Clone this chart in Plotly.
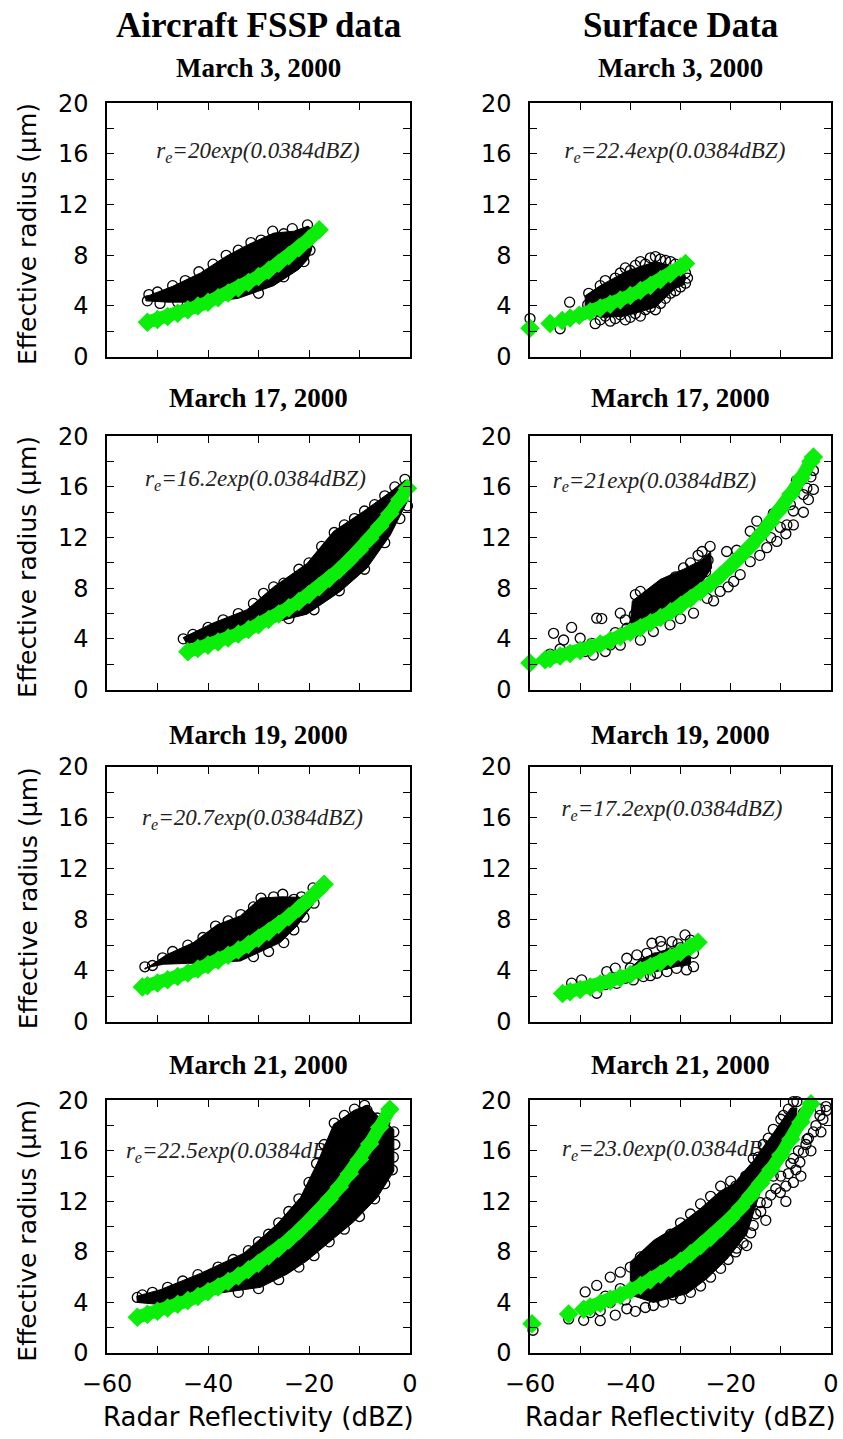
import plotly.graph_objects as go

W, H = 843, 1439
GREEN = '#0AEE0A'

# ---------------- text ----------------
column_titles = ["Aircraft FSSP data", "Surface Data"]
panel_titles = ["March 3, 2000", "March 3, 2000",
                "March 17, 2000", "March 17, 2000",
                "March 19, 2000", "March 19, 2000",
                "March 21, 2000", "March 21, 2000"]
fit_labels = ["r<sub>e</sub>=20exp(0.0384dBZ)", "r<sub>e</sub>=22.4exp(0.0384dBZ)",
              "r<sub>e</sub>=16.2exp(0.0384dBZ)", "r<sub>e</sub>=21exp(0.0384dBZ)",
              "r<sub>e</sub>=20.7exp(0.0384dBZ)", "r<sub>e</sub>=17.2exp(0.0384dBZ)",
              "r<sub>e</sub>=22.5exp(0.0384dBZ)", "r<sub>e</sub>=23.0exp(0.0384dBZ)"]
x_title = "Radar Reflectivity (dBZ)"
y_title = "Effective radius (µm)"
x_tick_vals = [-60, -40, -20, 0]
x_tick_text = ["\u221260", "\u221240", "\u221220", "0"]
y_tick_vals = [0, 4, 8, 12, 16, 20]
y_tick_text = ["0", "4", "8", "12", "16", "20"]

# ---------------- Aircraft FSSP data ----------------
# dense clouds: outline of the solid black region (dBZ, um)
a1_cloud = [(-52.3, 4.75), (-51.5, 4.85), (-47, 5.55), (-41.5, 6.6), (-36.5, 7.9), (-32, 8.85), (-27, 9.75),
            (-23, 9.9), (-20.2, 10.3), (-18.8, 9.9), (-19.6, 8.3), (-20.2, 7.7), (-22, 6.9), (-27, 5.6),
            (-34, 4.6), (-40, 4.3), (-48, 4.3), (-52.3, 4.4)]
a1_points = [(-51.7, 4.9), (-50, 5.1), (-47, 5.6), (-44.5, 6.0), (-41.8, 6.7), (-39, 7.3), (-36.4, 8.0),
             (-34, 8.4), (-31.5, 9.0), (-29.5, 9.2), (-27.2, 9.9), (-25, 9.7), (-23.3, 10.1), (-20.3, 10.4),
             (-52, 4.4), (-49.5, 4.2), (-46, 4.3), (-42, 4.35), (-30, 5.0), (-25, 6.3), (-21, 7.5), (-19.8, 8.4)]
a1_fit_x = [-52, -50, -48, -46, -44, -42, -40, -38, -36, -34, -32, -30, -28, -26, -24, -22, -20, -18]
a1_fit_y = [2.72, 2.93, 3.17, 3.42, 3.69, 3.99, 4.30, 4.65, 5.02, 5.42, 5.85, 6.32, 6.82, 7.37, 7.96, 8.59,
            9.28, 10.02]

a2_cloud = [(-44.9, 4.1), (-39, 5.25), (-32.3, 6.3), (-27, 8.1), (-20.4, 9.95), (-15.1, 12.5), (-9.1, 14.1),
            (-3.9, 15.6), (-0.9, 16.55), (-0.4, 16.0), (-0.6, 14.8), (-3.9, 12.2), (-8.5, 9.6), (-13.8, 7.75),
            (-20.4, 5.95), (-27, 5.3), (-36.5, 4.4), (-44.2, 3.6)]
a2_points = [(-44.9, 4.0), (-43, 4.35), (-40, 4.9), (-37, 5.5), (-34, 6.0), (-31, 6.8), (-29, 7.6), (-27, 8.1),
             (-25, 8.4), (-22, 9.5), (-20, 10.0), (-17.5, 11.3), (-15, 12.4), (-13, 13.0), (-11, 13.5),
             (-9, 14.1), (-7, 14.6), (-5, 15.3), (-3, 16.0), (-1, 16.6), (-0.5, 14.5), (-2, 13.5), (-5, 11.6),
             (-9, 9.5), (-14, 7.8), (-19, 6.3), (-24, 5.6), (-30, 5.0)]
a2_fit_x = [-44, -42, -40, -38, -36, -34, -32, -30, -28, -26, -24, -22, -20, -18, -16, -14, -12, -10, -8,
            -6, -4, -2, -0.5]
a2_fit_y = [2.99, 3.23, 3.49, 3.76, 4.07, 4.39, 4.74, 5.12, 5.53, 5.97, 6.45, 6.96, 7.51, 8.12, 8.76, 9.46,
            10.22, 11.03, 11.92, 12.87, 13.89, 15.0, 15.9]

a3_cloud = [(-52.5, 4.1), (-48.2, 5.25), (-42.9, 6.2), (-38.2, 7.6), (-33.6, 8.3), (-29.6, 9.7), (-25.3, 9.8),
            (-21.7, 9.75), (-19.1, 10.4), (-18.9, 9.6), (-19.2, 9.2), (-22.4, 7.5), (-25.7, 6.2),
            (-33.6, 4.75), (-41.5, 4.6), (-48.8, 4.5), (-52.5, 4.2)]
a3_points = [(-52.5, 4.3), (-51, 4.4), (-49, 5.0), (-47, 5.5), (-44, 6.0), (-41, 6.6), (-38.5, 7.5), (-36, 7.9),
             (-33.5, 8.4), (-31, 9.0), (-29.5, 9.7), (-27, 9.8), (-25.2, 10.0), (-23, 9.6), (-21.5, 9.8),
             (-19.2, 10.5), (-19, 9.3), (-21, 8.2), (-23, 7.2), (-25, 6.2), (-28, 5.5), (-31, 5.1)]
a3_fit_x = [-53, -52, -50, -48, -46, -44, -42, -40, -38, -36, -34, -32, -30, -28, -26, -24, -22, -20, -18, -17]
a3_fit_y = [2.71, 2.81, 3.03, 3.28, 3.54, 3.82, 4.13, 4.45, 4.81, 5.20, 5.61, 6.06, 6.54, 7.06, 7.63, 8.24,
            8.89, 9.60, 10.37, 10.78]

a4_cloud = [(-54.1, 4.5), (-49.5, 5.0), (-41.5, 6.3), (-32.9, 7.9), (-26.3, 10.2), (-21.7, 12.3), (-18.4, 15.0),
            (-15.1, 18.1), (-11.1, 19.2), (-8.5, 19.6), (-6.5, 18.8), (-3.2, 17.7), (-3.2, 14.4), (-6.5, 12.3),
            (-11.1, 10.4), (-15.7, 8.9), (-20.4, 7.3), (-24.3, 6.25), (-29.6, 5.2), (-37.6, 4.75),
            (-48.5, 3.8), (-54, 4.0)]
a4_points = [(-54, 4.4), (-53, 4.6), (-51, 4.8), (-48, 5.2), (-45, 5.7), (-42, 6.2), (-38, 6.8), (-35, 7.4),
             (-32, 8.1), (-30, 8.8), (-28, 9.4), (-26, 10.3), (-24, 11.2), (-22, 12.2), (-20, 13.5),
             (-18.5, 15.0), (-17, 16.5), (-15, 18.2), (-13, 18.8), (-11, 19.3), (-9, 19.6), (-8.5, 19.2),
             (-6.5, 18.6), (-5, 18.2), (-3.2, 17.5), (-3, 16.5), (-3.3, 15.5), (-3.5, 14.5), (-5, 13.4),
             (-7, 12.2), (-10, 10.8), (-13, 9.8), (-16, 8.8), (-19, 7.7), (-22, 6.8), (-26, 5.8), (-30, 5.1),
             (-34, 4.8)]
a4_fit_x = [-54, -52, -50, -48, -46, -44, -42, -40, -38, -36, -34, -32, -30, -28, -26, -24, -22, -20, -18,
            -16, -14, -12, -10, -8, -6, -4]
a4_fit_y = [2.83, 3.06, 3.30, 3.56, 3.85, 4.15, 4.48, 4.84, 5.23, 5.65, 6.10, 6.58, 7.11, 7.68, 8.29, 8.95,
            9.67, 10.44, 11.27, 12.17, 13.14, 14.19, 15.32, 16.55, 17.87, 19.30]

# ---------------- Surface data ----------------
s1_cloud = [(-49, 3.5), (-49, 4.8), (-46, 5.6), (-41, 6.7), (-35, 7.5), (-31, 7.1), (-29.2, 6.4), (-29.2, 5.7),
            (-31, 5.4), (-35, 3.9), (-41, 3.2), (-46, 3.1)]
s1_points = [(-60, 3.0), (-54, 2.2), (-52.1, 4.3), (-48.3, 5.0), (-47, 2.6), (-49.5, 3.3), (-48.5, 4.1),
             (-47, 4.6), (-46, 5.6), (-45, 6.0), (-44, 5.3), (-43, 6.2), (-42, 6.6), (-41, 7.0), (-40, 6.8),
             (-39, 7.2), (-38, 7.5), (-37, 7.3), (-36, 7.8), (-35, 7.9), (-34, 7.7), (-33, 7.6), (-32, 7.5),
             (-31, 7.3), (-30, 7.0), (-29, 6.6),
             (-46, 2.9), (-45, 3.2), (-44, 2.8), (-43, 3.0), (-42, 3.3), (-41, 2.9), (-40, 3.1), (-39, 3.4),
             (-38, 3.2), (-37, 3.7), (-36, 3.9), (-35, 3.7), (-34, 4.2), (-33, 4.6), (-32, 5.0), (-31, 5.2),
             (-30, 5.5), (-29, 5.8), (-28.6, 6.2),
             (-45, 4.5), (-43, 4.8), (-41, 5.5), (-40, 4.6), (-39, 5.8), (-38, 4.9), (-37, 6.2), (-36, 5.3),
             (-35, 6.6), (-34, 5.6), (-33, 6.8), (-32, 6.1), (-31, 6.4), (-30, 6.2), (-44, 3.9), (-42, 4.1),
             (-40, 3.8), (-38, 4.2), (-36, 4.6), (-34, 4.9)]
s1_fit_x = [-60, None, -56, None, -53.6, None, -52, None, -50.2, -48, -46, -44, -42, -40, -38, -36, -34, -32,
            -30, -29]
s1_fit_y = [2.24, None, 2.61, None, 2.86, None, 3.04, None, 3.26, 3.55, 3.83, 4.14, 4.46, 4.82, 5.21, 5.62,
            6.07, 6.55, 7.08, 7.35]

s2_cloud = [(-40, 5.2), (-39.6, 7.0), (-34, 8.7), (-29.4, 9.5), (-25.4, 10.3), (-24, 10.9), (-23.8, 9.6),
            (-26, 8.3), (-30, 7.0), (-36, 5.6), (-40, 4.8)]
s2_points = [(-55.3, 4.44), (-53.3, 3.91), (-51.7, 4.9), (-50, 4.05), (-47.7, 3.65), (-46.7, 5.63),
             (-45.7, 5.6), (-47.4, 2.72), (-44, 3.52), (-42, 6.03), (-40.7, 4.84), (-39, 7.49), (-38, 7.75),
             (-39.2, 5.9), (-36.7, 6.3), (-54, 3.2), (-56, 2.8), (-52, 3.0), (-49, 3.0), (-45, 3.0), (-43, 4.5),
             (-41, 5.5), (-37, 7.0), (-35, 7.6), (-33, 8.3), (-31, 8.9), (-29.4, 9.6), (-28, 10.0),
             (-26.5, 10.6), (-25.7, 10.9), (-24.1, 11.3), (-24.5, 10.2), (-25, 9.3), (-27, 8.8), (-30, 8.2),
             (-33, 7.3), (-36, 6.1),
             (-42, 3.5), (-38, 3.9), (-35.4, 4.58), (-32.1, 5.11), (-30, 5.6), (-27.4, 6.03), (-24.7, 7.2),
             (-23.4, 7.0), (-22.1, 7.75), (-20.5, 8.1), (-19.4, 8.54), (-18.1, 9.07), (-16.1, 10.1),
             (-14.2, 10.6), (-12.8, 11.2), (-10.8, 11.7), (-9, 12.3), (-7.5, 13.0), (-5.5, 14.0), (-4.5, 15.0),
             (-3.5, 15.8), (-4, 16.8),
             (-20.8, 10.9), (-18.8, 11.0), (-16.1, 12.5), (-14.8, 13.3), (-11.5, 13.9), (-8.8, 13.0),
             (-8.1, 14.6), (-6.9, 16.5), (-5.5, 15.4), (-4.8, 17.3), (-3.5, 17.3), (-4.8, 15.9), (-7.5, 14.1),
             (-10.1, 12.8), (-12, 12.0), (-13, 12.8)]
s2_fit_x = [-60, None, -57, -56, -54, -52, -50, -48, -46, -44, -42, -40, -38, -36, -34, -32, -30, -28, -26,
            -24, -22, -20, -18, -16, -14, -12, -10, -8, -6, -4, -3.5]
s2_fit_y = [2.10, None, 2.35, 2.44, 2.64, 2.85, 3.08, 3.32, 3.59, 3.88, 4.19, 4.52, 4.88, 5.27, 5.69, 6.14,
            6.64, 7.17, 7.74, 8.36, 9.02, 9.74, 10.52, 11.36, 12.27, 13.24, 14.30, 15.45, 16.68, 18.01, 18.36]

s3_cloud = [(-40, 4.2), (-38, 4.9), (-34, 5.5), (-30, 5.9), (-28, 5.7), (-28, 4.5), (-31, 4.3), (-35, 3.9),
            (-38, 3.8)]
s3_points = [(-51.7, 3.01), (-49.7, 3.27), (-46.7, 2.22), (-44.7, 3.92), (-43, 4.19), (-40.7, 4.97),
             (-38.7, 5.23), (-42.7, 3.0), (-39.4, 3.27), (-37.4, 3.53), (-35.7, 6.15), (-33.7, 5.88),
             (-31.7, 6.27), (-29.1, 6.8), (-27.4, 5.36), (-27.4, 4.31), (-28.8, 4.05), (-30.8, 4.18),
             (-32.7, 3.92), (-34.7, 3.79), (-36.7, 5.36), (-38, 4.31), (-48, 2.8), (-45, 2.9), (-41, 3.4),
             (-36, 3.6), (-33, 4.5), (-31, 5.0), (-29, 5.3), (-28, 5.9), (-30, 5.8), (-32, 5.4), (-35, 5.0),
             (-37, 4.6), (-40, 4.2), (-34, 6.3), (-30.5, 6.1), (-28, 6.4)]
s3_fit_x = [-53.5, -52, -50, -48, -46, -44, -42, -40, -38, -36, -34, -32, -30, -28, -26.5]
s3_fit_y = [2.21, 2.34, 2.52, 2.72, 2.94, 3.18, 3.43, 3.70, 4.00, 4.32, 4.66, 5.03, 5.44, 5.87, 6.22]

s4_cloud = [(-40, 4.6), (-40, 7.2), (-35.4, 8.9), (-30.1, 10.2), (-26.1, 11.4), (-22.1, 12.8), (-19.4, 13.4),
            (-15.5, 15.2), (-11.5, 17.4), (-8, 19.4), (-6.8, 19.4), (-7, 17.3), (-10, 15.3), (-14, 12.9),
            (-16.8, 9.4), (-20.8, 7.4), (-24.7, 5.9), (-28.7, 4.7), (-35.4, 4.0)]
s4_points = [(-59.4, 1.8), (-52.3, 2.7), (-49.3, 2.59), (-49, 4.83), (-46.7, 5.35), (-46, 2.56), (-46, 3.35),
             (-44, 6.0), (-42, 6.4), (-40, 6.8), (-42, 5.1), (-40.7, 3.5), (-38, 7.6), (-35.4, 3.76),
             (-33.4, 4.03), (-48, 3.2), (-45, 4.5), (-43, 3.0), (-44, 4.0), (-41, 4.2), (-39, 3.3), (-37, 3.6),
             (-36, 8.0), (-34, 8.6), (-32, 9.4), (-30, 10.3), (-28, 11.0), (-26, 11.8), (-24, 12.4),
             (-22, 13.2), (-20, 13.6), (-19, 13.2), (-30, 4.3), (-28, 4.8), (-26, 5.3), (-24, 6.0), (-22, 6.7),
             (-20.5, 7.4), (-19, 8.0), (-17.5, 8.7),
             (-19.4, 9.3), (-18.8, 8.3), (-16.8, 8.5), (-15.5, 10.1), (-14.1, 11.9), (-12.8, 11.9),
             (-11.5, 14.0), (-10.1, 12.7), (-7.5, 13.5), (-6.2, 15.1), (-4.8, 16.9), (-3.5, 17.5), (-2.2, 18.8),
             (-0.9, 19.2), (-1.6, 18.5), (-5.5, 15.9), (-7.5, 15.4), (-8.5, 14.2), (-13, 10.5), (-16, 9.5),
             (-9, 12.0), (-6, 14.0), (-4.5, 17.0), (-2.2, 19.3),
             (-18, 9.8), (-17, 10.5), (-15, 11.0), (-14, 11.2), (-12, 12.5), (-11, 13.0), (-10, 14.0),
             (-9, 13.2), (-8, 15.0), (-7, 14.5), (-6.5, 16.0), (-5, 16.5), (-4, 16.0), (-3, 18.0), (-2, 17.5),
             (-1, 19.5), (-21, 9.5), (-23, 8.6), (-25, 7.5), (-27, 6.3), (-29, 5.9), (-31.5, 4.6),
             (-15.5, 15.4), (-13.5, 16.5), (-11.5, 17.7), (-10, 18.5), (-8.5, 19.3), (-7.5, 19.9), (-6.8, 19.9),
             (-5.5, 19.0), (-17, 14.0), (-14.5, 15.5), (-12.5, 17.0), (-9.5, 18.8),
             (-38, 5.8), (-36, 6.5), (-34, 7.2), (-32, 7.9), (-30, 8.7), (-28, 9.5), (-26, 10.3), (-24, 11.0),
             (-22, 11.8), (-36, 4.6), (-33, 5.5), (-30, 6.2), (-27, 7.0), (-24, 7.6), (-21, 8.6)]
s4_fit_x = [-59.6, None, -52.3, None, -49.3, -48, -46, -44, -42, -40, -38, -36, -34, -32, -30, -28, -26, -24,
            -22, -20, -18, -16, -14, -12, -10, -8, -6, -4]
s4_fit_y = [2.32, None, 3.09, None, 3.46, 3.64, 3.93, 4.25, 4.58, 4.95, 5.35, 5.77, 6.23, 6.73, 7.27, 7.85,
            8.48, 9.15, 9.88, 10.67, 11.52, 12.44, 13.43, 14.51, 15.67, 16.92, 18.27, 19.72]

panels = [
    (a1_cloud, a1_points, a1_fit_x, a1_fit_y), (s1_cloud, s1_points, s1_fit_x, s1_fit_y),
    (a2_cloud, a2_points, a2_fit_x, a2_fit_y), (s2_cloud, s2_points, s2_fit_x, s2_fit_y),
    (a3_cloud, a3_points, a3_fit_x, a3_fit_y), (s3_cloud, s3_points, s3_fit_x, s3_fit_y),
    (a4_cloud, a4_points, a4_fit_x, a4_fit_y), (s4_cloud, s4_points, s4_fit_x, s4_fit_y),
]

# ---------------- layout (pixel geometry) ----------------
col_px = [(107, 410), (530, 831)]
row_px = [(103.3, 356.6), (436.3, 689.5), (767, 1021.5), (1100.3, 1353)]
label_pos = [(-30.1, 16.1), (-31.1, 16.1), (-30.6, 16.5), (-35.2, 16.4),
             (-31.2, 15.9), (-31.7, 16.6), (-34.4, 15.9), (-31.6, 16.05)]
title_y_px = [68, 398, 735, 1065]
col_center_px = [258, 680]


def fx(p):
    return p / W


def fy(p):
    return 1 - p / H


SANS = "DejaVu Sans, Arial, sans-serif"
SERIF = "Liberation Serif, Times New Roman, serif"

fig = go.Figure()

for i, (cloud, pts, fit_x, fit_y) in enumerate(panels):
    n = '' if i == 0 else str(i + 1)
    xa, ya = 'x' + n, 'y' + n
    lx, ly = label_pos[i]
    fig.add_trace(go.Scatter(x=[lx], y=[ly], mode='text', text=['<i>' + fit_labels[i] + '</i>'],
                             textposition='middle center',
                             textfont=dict(family=SERIF, size=23, color='#222'),
                             xaxis=xa, yaxis=ya, hoverinfo='skip', showlegend=False))
    cx = [p[0] for p in cloud] + [cloud[0][0]]
    cy = [p[1] for p in cloud] + [cloud[0][1]]
    fig.add_trace(go.Scatter(x=cx, y=cy, mode='lines', fill='toself', fillcolor='black',
                             line=dict(color='black', width=1), xaxis=xa, yaxis=ya,
                             hoverinfo='skip', showlegend=False))
    fig.add_trace(go.Scatter(x=[p[0] for p in pts], y=[p[1] for p in pts], mode='markers',
                             marker=dict(symbol='circle-open', size=10, color='black', line=dict(width=1.3)),
                             cliponaxis=False, xaxis=xa, yaxis=ya, showlegend=False))
    fig.add_trace(go.Scatter(x=fit_x, y=fit_y, mode='lines+markers',
                             line=dict(color=GREEN, width=13),
                             marker=dict(symbol='diamond', size=15, color=GREEN, line=dict(width=0)),
                             cliponaxis=False, xaxis=xa, yaxis=ya, showlegend=False))

axis_common = dict(ticks='inside', ticklen=7, tickwidth=1.3, tickcolor='black', showline=True,
                   linecolor='black', linewidth=1.5, mirror='ticks', showgrid=False, zeroline=False,
                   fixedrange=True, automargin=False, tickfont=dict(family=SANS, size=24, color='black'))

layout_axes = {}
for i in range(8):
    r, c = divmod(i, 2)
    n = '' if i == 0 else str(i + 1)
    layout_axes['xaxis' + n] = dict(axis_common, domain=[fx(col_px[c][0]), fx(col_px[c][1])],
                                    anchor='y' + n, range=[-60, 0], tickvals=x_tick_vals,
                                    ticktext=x_tick_text, showticklabels=(r == 3), ticklabelstandoff=8,
                                    minor=dict(ticks='inside', ticklen=7, tickwidth=1.3, tickcolor='black',
                                               tickvals=[-50, -30, -10], showgrid=False))
    layout_axes['yaxis' + n] = dict(axis_common, domain=[fy(row_px[r][1]), fy(row_px[r][0])],
                                    anchor='x' + n, range=[0, 20], tickvals=y_tick_vals,
                                    ticktext=y_tick_text, ticklabelstandoff=12,
                                    minor=dict(ticks='inside', ticklen=7, tickwidth=1.3, tickcolor='black',
                                               tickvals=[2, 6, 10, 14, 18], showgrid=False))

annotations = []
for c in range(2):
    annotations.append(dict(text='<b>' + column_titles[c] + '</b>', x=fx(col_center_px[c]), y=fy(25),
                            xref='paper', yref='paper', showarrow=False, xanchor='center', yanchor='middle',
                            font=dict(family=SERIF, size=35, color='black')))
    annotations.append(dict(text=x_title, x=fx(col_center_px[c]), y=fy(1417), xref='paper', yref='paper',
                            showarrow=False, xanchor='center', yanchor='middle',
                            font=dict(family=SANS, size=26, color='black')))
for i in range(8):
    r, c = divmod(i, 2)
    annotations.append(dict(text='<b>' + panel_titles[i] + '</b>', x=fx(col_center_px[c]), y=fy(title_y_px[r]),
                            xref='paper', yref='paper', showarrow=False, xanchor='center', yanchor='middle',
                            font=dict(family=SERIF, size=27, color='black')))
for r in range(4):
    yc = (row_px[r][0] + row_px[r][1]) / 2 + 4
    annotations.append(dict(text=y_title, x=fx(28), y=fy(yc), xref='paper', yref='paper', showarrow=False,
                            xanchor='center', yanchor='middle', textangle=-90,
                            font=dict(family=SANS, size=25, color='black')))

fig.update_layout(width=W, height=H, autosize=False, margin=dict(l=0, r=0, t=0, b=0),
                  paper_bgcolor='white', plot_bgcolor='white', showlegend=False,
                  annotations=annotations, **layout_axes)

fig.write_html("out.html", config={'displayModeBar': False})
